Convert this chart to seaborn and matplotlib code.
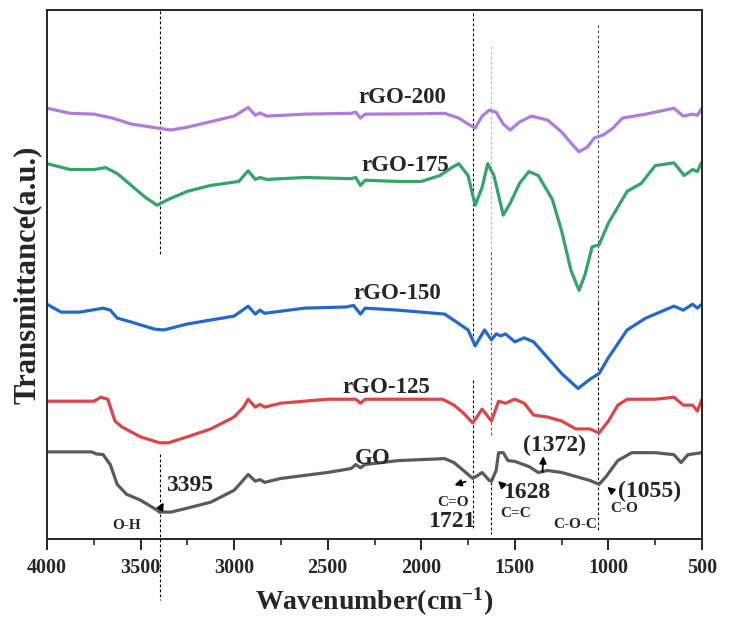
import numpy as np
import pandas as pd
import seaborn as sns
import matplotlib.pyplot as plt

# --- data (wavenumber cm-1, transmittance a.u.) ---
go_wn = [4000, 3762, 3737, 3700, 3662, 3625, 3575, 3500, 3412, 3400, 3337, 3250, 3125,
         3000, 2962, 2925, 2887, 2862, 2837, 2750, 2500, 2375, 2350, 2325, 2300, 2125,
         1875, 1825, 1775, 1725, 1700, 1675, 1637, 1625, 1600, 1587, 1562, 1537, 1500,
         1425, 1375, 1325, 1250, 1175, 1100, 1050, 1012, 950, 875, 750, 650, 612, 575, 500]
go_t = [220, 220, 215, 213, 188, 138, 113, 98, 73, 68, 68, 78, 93,
        123, 143, 163, 146, 150, 143, 153, 168, 178, 188, 180, 188, 198,
        203, 193, 173, 153, 160, 168, 148, 146, 173, 218, 218, 198, 196,
        183, 168, 173, 168, 158, 148, 138, 158, 198, 218, 218, 213, 193, 213, 218]

r125_wn = [4000, 3750, 3712, 3675, 3637, 3600, 3500, 3400, 3350, 3250, 3125, 3000, 2950,
           2925, 2887, 2862, 2837, 2750, 2500, 2350, 2325, 2300, 1887, 1825, 1775, 1725,
           1675, 1650, 1625, 1587, 1550, 1500, 1450, 1400, 1325, 1250, 1175, 1100, 1050,
           1000, 950, 900, 750, 650, 600, 550, 525, 500]
r125_t = [348, 348, 358, 353, 298, 283, 258, 243, 243, 258, 278, 308, 333,
          353, 333, 340, 333, 343, 353, 353, 343, 353, 353, 338, 318, 293,
          328, 313, 298, 348, 343, 353, 343, 313, 308, 298, 278, 278, 268,
          298, 338, 353, 353, 358, 338, 338, 323, 353]

r150_wn = [4000, 3925, 3825, 3700, 3662, 3625, 3550, 3425, 3375, 3250, 3000, 2925, 2887,
           2862, 2837, 2625, 2400, 2362, 2325, 2300, 2125, 1875, 1812, 1750, 1712, 1662,
           1625, 1600, 1575, 1550, 1500, 1450, 1400, 1325, 1250, 1162, 1100, 1050, 1000,
           900, 800, 650, 600, 550, 525, 500]
r150_t = [593, 573, 573, 583, 578, 558, 548, 530, 528, 543, 563, 588, 568,
          578, 570, 583, 586, 590, 568, 583, 578, 568, 548, 528, 488, 528,
          503, 518, 513, 518, 498, 508, 498, 458, 418, 380, 403, 418, 458,
          528, 558, 588, 578, 593, 583, 593]

r175_wn = [4000, 3875, 3750, 3687, 3625, 3550, 3475, 3412, 3350, 3250, 3125, 2975, 2925,
           2887, 2862, 2825, 2625, 2375, 2350, 2325, 2300, 2125, 2000, 1900, 1837, 1800,
           1750, 1712, 1675, 1645, 1612, 1562, 1525, 1475, 1425, 1375, 1300, 1250, 1200,
           1157, 1125, 1087, 1050, 1000, 900, 825, 750, 650, 595, 550, 525, 500]
r175_t = [948, 933, 933, 938, 923, 893, 863, 843, 858, 878, 893, 903, 930,
          908, 913, 908, 913, 910, 913, 893, 906, 903, 903, 918, 938, 948,
          918, 843, 888, 948, 918, 818, 848, 898, 928, 918, 858, 778, 678,
          628, 668, 738, 743, 798, 878, 898, 943, 950, 918, 933, 928, 953]

r200_wn = [4000, 3875, 3750, 3650, 3550, 3412, 3337, 3250, 3000, 2925, 2887, 2862, 2825,
           2625, 2375, 2350, 2325, 2300, 2000, 1875, 1800, 1750, 1712, 1675, 1637, 1600,
           1562, 1525, 1475, 1412, 1325, 1250, 1187, 1157, 1112, 1075, 1025, 975, 925,
           800, 650, 600, 550, 525, 500]
r200_t = [1088, 1075, 1073, 1063, 1048, 1038, 1033, 1040, 1068, 1090, 1070, 1076, 1068,
          1073, 1075, 1078, 1063, 1073, 1074, 1075, 1063, 1048, 1038, 1068, 1083, 1078,
          1048, 1033, 1053, 1068, 1058, 1028, 993, 978, 990, 1013, 1021, 1038, 1063,
          1073, 1088, 1068, 1073, 1070, 1088]

samples = ["GO", "rGO-125", "rGO-150", "rGO-175", "rGO-200"]
colors = ["#5a5a5a", "#d9474a", "#2468c8", "#38a368", "#b07cda"]
label_wn = [2257, 2187, 2130, 2087, 2100]
label_t = [203, 383, 620, 943, 1116]

# dashed guide lines: wavenumber, (start, end) in a.u.
guide_wn = [3395, 3395, 1721, 1721, 1628, 1628, 1628, 1055, 1055]
guide_span = [(1333, 718), (214, -155), (1328, 490), (402, 25),
              (1244, 726), (726, 263), (156, 12), (1297, 599), (599, 17)]
guide_col = ["k", "k", "k", "k", "#b5b5b5", "#555555", "k", "#444444", "k"]

# peak annotations
peak_text = ["3395", "1721", "1628", "(1372)", "(1055)"]
peak_xy = [(3237, 136), (1837, 43), (1437, 118), (1287, 236), (780, 120)]
arrow_tail = [(3405, 68), (1749, 147), (1548, 128), (1353, 162), (974, 119)]
arrow_head = [(3369, 98), (1837, 134), (1601, 151), (1347, 216), (1018, 136)]
bond_text = ["O-H", "C=O", "C=C", "C-O-C", "C-O"]
bond_xy = [(3575, 33), (1830, 93), (1495, 65), (1175, 36), (917, 78)]

sns.set_style("ticks")
plt.rcParams['font.family'] = ['Liberation Serif', 'DejaVu Serif']
plt.rcParams['font.weight'] = 'bold'
plt.rcParams['mathtext.fontset'] = 'custom'
plt.rcParams['mathtext.rm'] = 'Liberation Serif:bold'
plt.rcParams['mathtext.bf'] = 'Liberation Serif:bold'
plt.rcParams['mathtext.it'] = 'Liberation Serif:bold'
plt.rcParams['lines.solid_joinstyle'] = 'round'
plt.rcParams['lines.solid_capstyle'] = 'round'

fig = plt.figure(figsize=(7.33, 6.21), dpi=100)
ax = fig.add_axes([47 / 733, 82 / 621, 655 / 733, 529 / 621])

series = [(go_wn, go_t), (r125_wn, r125_t), (r150_wn, r150_t),
          (r175_wn, r175_t), (r200_wn, r200_t)]
for name, (wn, t), c in zip(samples, series, colors):
    df = pd.DataFrame({"wn": wn, "t": t})
    sns.lineplot(data=df, x="wn", y="t", color=c, lw=2.3, sort=False, ax=ax, legend=False)

for name, x, y in zip(samples, label_wn, label_t):
    ax.text(x, y, name, fontsize=16.5, fontweight='bold', ha='center', va='center')

for x, (y0, y1), c in zip(guide_wn, guide_span, guide_col):
    ax.plot([x, x], [y0, y1], color=c, lw=0.8, ls=(0, (2.5, 2)), clip_on=False, zorder=1)

for txt, xy, tail, head in zip(peak_text, peak_xy, arrow_tail, arrow_head):
    ax.text(xy[0], xy[1], txt, fontsize=17, fontweight='bold', ha='center', va='center')
    ax.annotate("", xy=head, xytext=tail,
                arrowprops=dict(arrowstyle='-|>', color='k', lw=1.3, mutation_scale=10))

for txt, xy in zip(bond_text, bond_xy):
    ax.text(xy[0], xy[1], txt, fontsize=11, fontweight='bold', ha='center', va='center')

ax.set_xlim(4000, 500)
ax.set_ylim(0, 1336)
ax.set_xticks(np.arange(4000, 499, -500))
ax.set_xticks(np.arange(3750, 500, -500), minor=True)
ax.set_yticks([])
ax.tick_params(axis='x', which='major', direction='out', length=8, width=1.4,
               labelsize=14.5, pad=6)
ax.tick_params(axis='x', which='minor', direction='out', length=4, width=1.2)
for lab in ax.get_xticklabels():
    lab.set_fontweight('bold')
for s in ax.spines.values():
    s.set_linewidth(1.4)

ax.set_xlabel("Wavenumber(cm$^{-1}$)", fontsize=20, fontweight='bold', labelpad=5)
ax.set_ylabel("Transmittance(a.u.)", fontsize=22, fontweight='bold', labelpad=4)

fig.savefig("out.png", dpi=100)
